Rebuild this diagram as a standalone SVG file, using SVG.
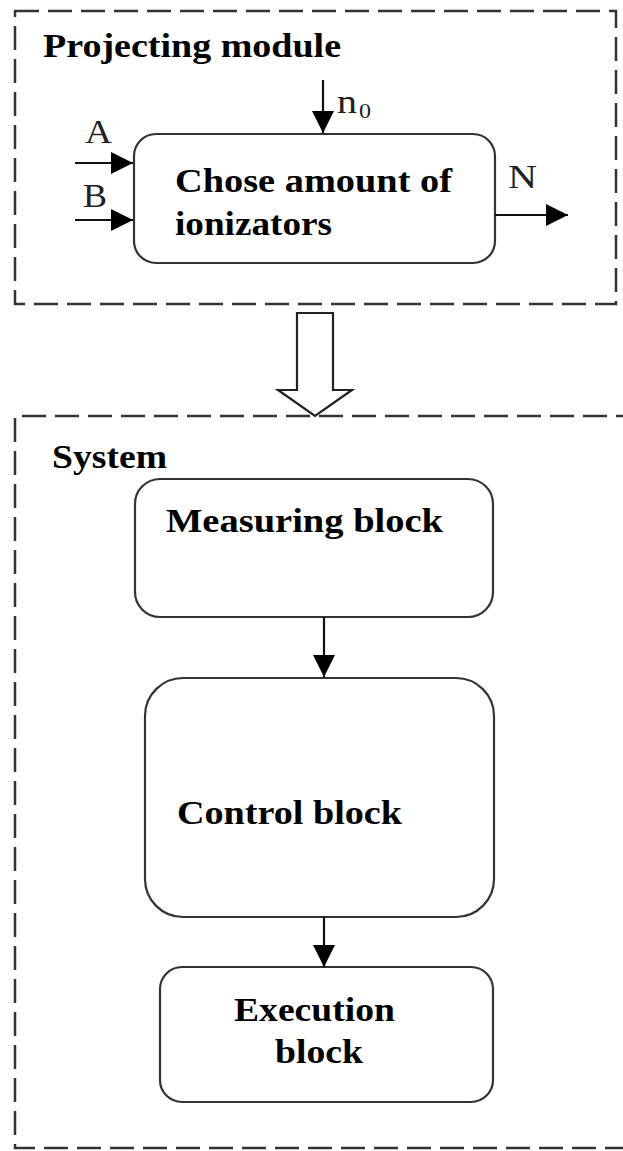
<svg xmlns="http://www.w3.org/2000/svg" width="623" height="1151" viewBox="0 0 623 1151">
<style>
.dash{fill:none;stroke:#333;stroke-width:2.5;stroke-dasharray:24 9}
.box{fill:#fff;stroke:#333;stroke-width:2.2}
.b{font-family:"Liberation Serif","Times New Roman",serif;font-weight:bold;font-size:34px;fill:#000}
.r{font-family:"Liberation Serif","Times New Roman",serif;font-size:34px;fill:#222}
.sub{font-family:"Liberation Serif","Times New Roman",serif;font-size:22px;fill:#222}
.con{stroke:#111;stroke-width:2.2;fill:none}
</style>
<defs>
<marker id="ah" markerUnits="userSpaceOnUse" markerWidth="22" markerHeight="22" refX="22" refY="11" orient="auto">
<path d="M0,0 L22,11 L0,22 z" fill="#000"/>
</marker>
</defs>
<rect width="623" height="1151" fill="#fff"/>
<g id="projecting-module">
<rect class="dash" x="15" y="11" width="601" height="293"/>
<text class="b" x="43" y="57" textLength="298" lengthAdjust="spacingAndGlyphs">Projecting module</text>
</g>
<g id="system">
<path class="dash" d="M640,416 L15,416 L15,1148 L640,1148"/>
<text class="b" x="52" y="468" textLength="115" lengthAdjust="spacingAndGlyphs">System</text>
</g>
<g id="transfer-arrow">
<path d="M297,313 L333,313 L333,390 L352,390 L315,416 L278,390 L297,390 Z" fill="#fff" stroke="#222" stroke-width="2.2" stroke-linejoin="miter"/>
</g>
<g id="chose-node">
<rect class="box" x="134" y="134" width="361" height="129" rx="22"/>
<text class="b" x="175" y="192" textLength="277" lengthAdjust="spacingAndGlyphs">Chose amount of</text>
<text class="b" x="175" y="235" textLength="157" lengthAdjust="spacingAndGlyphs">ionizators</text>
</g>
<g id="measuring-node">
<rect class="box" x="135" y="479" width="358" height="138" rx="25"/>
<text class="b" x="166" y="532" textLength="277" lengthAdjust="spacingAndGlyphs">Measuring block</text>
</g>
<g id="control-node">
<rect class="box" x="145" y="678" width="349" height="239" rx="38"/>
<text class="b" x="177" y="824" textLength="225" lengthAdjust="spacingAndGlyphs">Control block</text>
</g>
<g id="execution-node">
<rect class="box" x="160" y="967" width="333" height="135" rx="22"/>
<text class="b" x="234" y="1021" textLength="161" lengthAdjust="spacingAndGlyphs">Execution</text>
<text class="b" x="275" y="1063" textLength="88" lengthAdjust="spacingAndGlyphs">block</text>
</g>
<g id="connectors">
<line class="con" x1="75" y1="163" x2="133" y2="163" marker-end="url(#ah)"/>
<line class="con" x1="75" y1="220" x2="133" y2="220" marker-end="url(#ah)"/>
<line class="con" x1="323" y1="80" x2="323" y2="133" marker-end="url(#ah)"/>
<line class="con" x1="495" y1="215" x2="568" y2="215" marker-end="url(#ah)"/>
<line class="con" x1="324" y1="617" x2="324" y2="677" marker-end="url(#ah)"/>
<line class="con" x1="324" y1="917" x2="324" y2="967" marker-end="url(#ah)"/>
<text class="r" x="85" y="143" textLength="27" lengthAdjust="spacingAndGlyphs">A</text>
<text class="r" x="83" y="207" textLength="24" lengthAdjust="spacingAndGlyphs">B</text>
<text class="r" x="508" y="188" textLength="29" lengthAdjust="spacingAndGlyphs">N</text>
<text class="r" x="337" y="113" textLength="20" lengthAdjust="spacingAndGlyphs">n</text>
<text class="sub" x="359" y="118" textLength="12" lengthAdjust="spacingAndGlyphs">0</text>
</g>
</svg>
